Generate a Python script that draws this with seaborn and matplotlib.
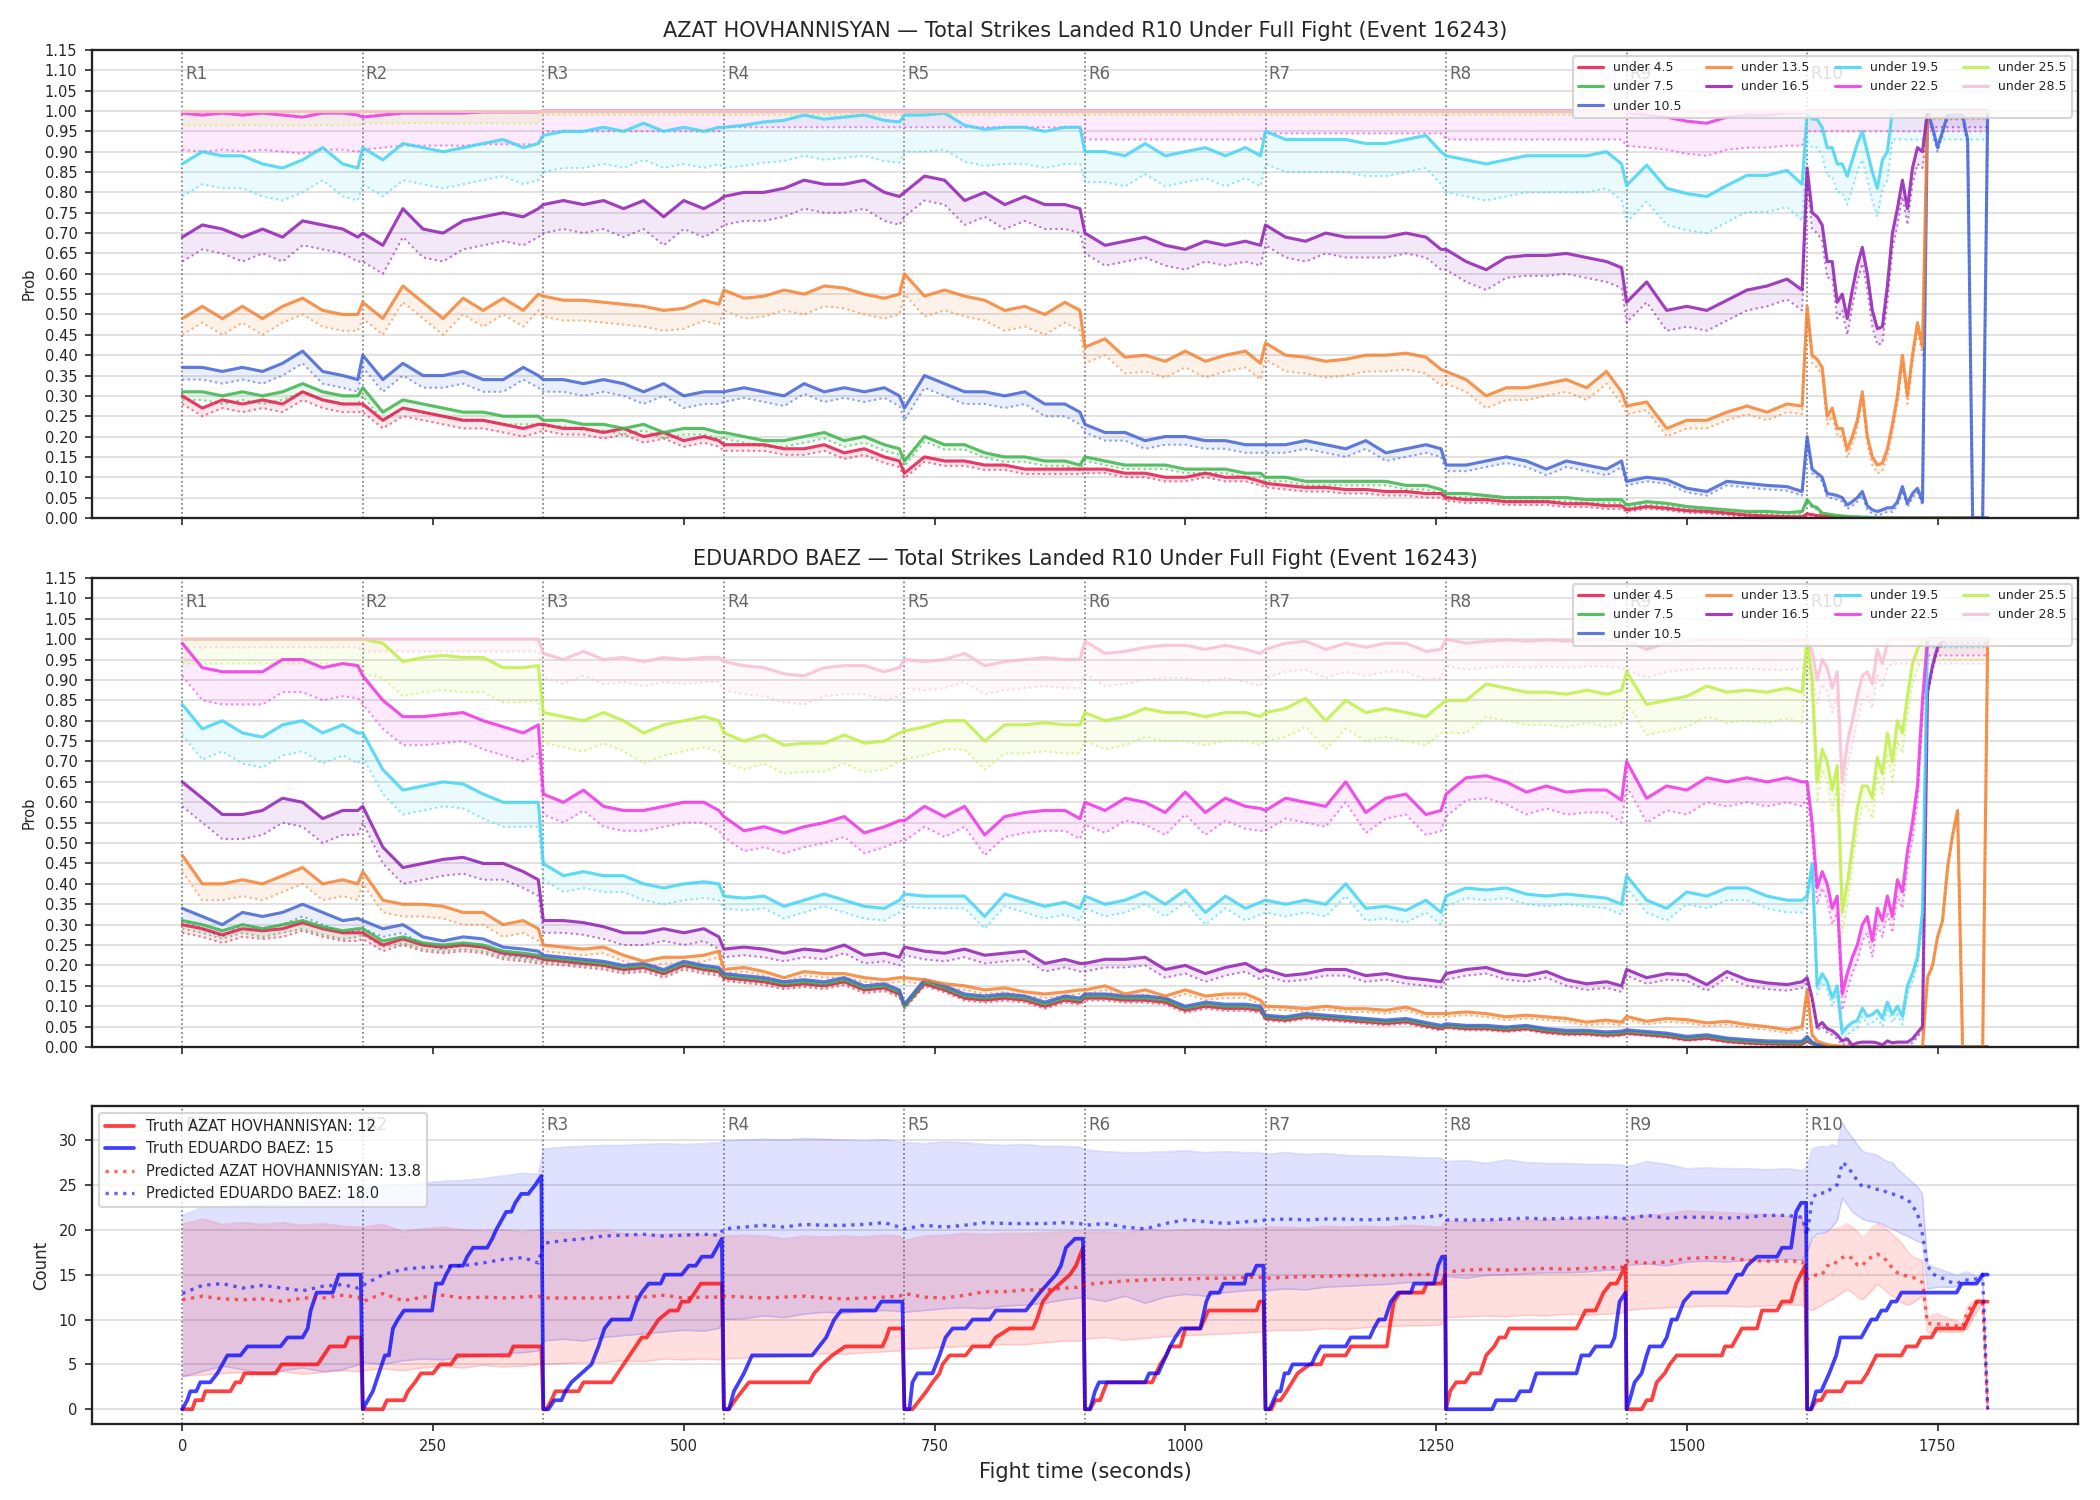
import matplotlib
matplotlib.use("Agg")
import matplotlib.pyplot as plt
from matplotlib.lines import Line2D
import numpy as np
import pandas as pd
import seaborn as sns

# ---------------- sampling grid ----------------
ROUND_OFFSETS = [0, 20, 40, 60, 80, 100, 120, 140, 160, 175]   # rounds 1-9
R10_OFFSETS = list(range(0, 185, 5))                            # round 10 (37 samples)
ROUND_STARTS = [0, 180, 360, 540, 720, 900, 1080, 1260, 1440, 1620]
T = [s + o for s in ROUND_STARTS[:9] for o in ROUND_OFFSETS] + [1620 + o for o in R10_OFFSETS]

LABELS = ["under 4.5", "under 7.5", "under 10.5", "under 13.5", "under 16.5",
          "under 19.5", "under 22.5", "under 25.5", "under 28.5"]
COLORS = ["#e6194B", "#3cb44b", "#4363d8", "#f58231", "#911eb4",
          "#42d4f4", "#f032e6", "#bfef45", "#fabed4"]

# ================= AZAT HOVHANNISYAN (top) =================
A_U45 = [[0.30, 0.27, 0.29, 0.28, 0.29, 0.28, 0.31, 0.29, 0.28, 0.28],
         [0.28, 0.24, 0.27, 0.26, 0.25, 0.24, 0.24, 0.23, 0.22, 0.23],
         [0.23, 0.22, 0.22, 0.21, 0.22, 0.20, 0.21, 0.19, 0.20, 0.19],
         [0.18, 0.18, 0.18, 0.17, 0.17, 0.18, 0.16, 0.17, 0.15, 0.14],
         [0.11, 0.15, 0.14, 0.14, 0.13, 0.13, 0.12, 0.12, 0.12, 0.12],
         [0.12, 0.12, 0.11, 0.11, 0.10, 0.10, 0.11, 0.10, 0.10, 0.09],
         [0.085, 0.08, 0.075, 0.075, 0.07, 0.07, 0.065, 0.065, 0.06, 0.06],
         [0.05, 0.045, 0.045, 0.04, 0.04, 0.04, 0.035, 0.035, 0.03, 0.03],
         [0.02, 0.028, 0.024, 0.018, 0.016, 0.012, 0.007, 0.005, 0.003, 0.003],
         [0.01, 0.008, 0.006, 0.005, 0.004, 0.003, 0.002, 0.002, 0.001] + [0.0] * 28]
A_U75 = [[0.31, 0.31, 0.30, 0.31, 0.30, 0.31, 0.33, 0.31, 0.30, 0.30],
         [0.32, 0.26, 0.29, 0.28, 0.27, 0.26, 0.26, 0.25, 0.25, 0.25],
         [0.24, 0.24, 0.23, 0.23, 0.22, 0.23, 0.21, 0.22, 0.22, 0.21],
         [0.21, 0.20, 0.19, 0.19, 0.20, 0.21, 0.19, 0.20, 0.18, 0.17],
         [0.14, 0.20, 0.18, 0.18, 0.16, 0.15, 0.15, 0.14, 0.14, 0.13],
         [0.15, 0.14, 0.13, 0.13, 0.13, 0.12, 0.12, 0.12, 0.11, 0.11],
         [0.10, 0.10, 0.09, 0.09, 0.09, 0.09, 0.09, 0.08, 0.08, 0.07],
         [0.06, 0.06, 0.055, 0.05, 0.05, 0.05, 0.05, 0.045, 0.045, 0.045],
         [0.032, 0.04, 0.036, 0.028, 0.024, 0.02, 0.016, 0.016, 0.013, 0.016],
         [0.045, 0.03, 0.025, 0.012, 0.01, 0.008, 0.006, 0.005, 0.004, 0.003, 0.003,
          0.002, 0.002, 0.001] + [0.0] * 23]
A_U105 = [[0.37, 0.37, 0.36, 0.37, 0.36, 0.38, 0.41, 0.36, 0.35, 0.34],
          [0.40, 0.34, 0.38, 0.35, 0.35, 0.36, 0.34, 0.34, 0.37, 0.35],
          [0.34, 0.34, 0.33, 0.34, 0.33, 0.31, 0.33, 0.30, 0.31, 0.31],
          [0.31, 0.32, 0.31, 0.30, 0.33, 0.31, 0.32, 0.31, 0.32, 0.30],
          [0.27, 0.35, 0.33, 0.31, 0.31, 0.30, 0.31, 0.28, 0.28, 0.26],
          [0.23, 0.21, 0.21, 0.19, 0.20, 0.20, 0.19, 0.19, 0.18, 0.18],
          [0.18, 0.18, 0.19, 0.18, 0.17, 0.19, 0.16, 0.17, 0.18, 0.17],
          [0.13, 0.13, 0.14, 0.15, 0.14, 0.12, 0.14, 0.13, 0.12, 0.14],
          [0.09, 0.10, 0.094, 0.073, 0.065, 0.09, 0.085, 0.08, 0.077, 0.065],
          [0.20, 0.12, 0.11, 0.10, 0.06, 0.058, 0.055, 0.05, 0.032, 0.04, 0.05, 0.065,
           0.03, 0.02, 0.016, 0.02, 0.025, 0.025, 0.04, 0.077, 0.036, 0.06, 0.073, 0.04,
           1.0, 0.96, 0.91, 0.95, 0.99, 0.99, 0.99, 0.99, 0.93, 0.0, 0.0, 0.0, 1.0]]
A_U135 = [[0.49, 0.52, 0.49, 0.52, 0.49, 0.52, 0.54, 0.51, 0.50, 0.50],
          [0.53, 0.49, 0.57, 0.53, 0.49, 0.54, 0.51, 0.54, 0.51, 0.55],
          [0.545, 0.535, 0.535, 0.53, 0.525, 0.52, 0.51, 0.515, 0.535, 0.525],
          [0.56, 0.54, 0.545, 0.56, 0.55, 0.57, 0.565, 0.55, 0.54, 0.55],
          [0.60, 0.545, 0.56, 0.545, 0.535, 0.51, 0.52, 0.50, 0.53, 0.51],
          [0.42, 0.44, 0.395, 0.40, 0.385, 0.41, 0.385, 0.40, 0.41, 0.38],
          [0.43, 0.40, 0.395, 0.385, 0.39, 0.40, 0.40, 0.405, 0.395, 0.365],
          [0.36, 0.34, 0.30, 0.32, 0.32, 0.33, 0.34, 0.32, 0.36, 0.31],
          [0.275, 0.285, 0.22, 0.24, 0.24, 0.26, 0.275, 0.26, 0.28, 0.275],
          [0.52, 0.40, 0.39, 0.37, 0.25, 0.27, 0.22, 0.22, 0.168, 0.20, 0.24, 0.31,
           0.20, 0.15, 0.13, 0.135, 0.17, 0.23, 0.30, 0.40, 0.30, 0.40, 0.48, 0.42] + [1.0] * 13]
A_U165 = [[0.69, 0.72, 0.71, 0.69, 0.71, 0.69, 0.73, 0.72, 0.71, 0.69],
          [0.70, 0.67, 0.76, 0.71, 0.70, 0.73, 0.74, 0.75, 0.74, 0.76],
          [0.77, 0.78, 0.77, 0.78, 0.76, 0.78, 0.74, 0.78, 0.76, 0.78],
          [0.79, 0.80, 0.80, 0.81, 0.83, 0.82, 0.82, 0.83, 0.80, 0.79],
          [0.80, 0.84, 0.83, 0.78, 0.80, 0.77, 0.79, 0.77, 0.77, 0.76],
          [0.70, 0.67, 0.68, 0.69, 0.67, 0.66, 0.68, 0.67, 0.68, 0.67],
          [0.72, 0.69, 0.68, 0.70, 0.69, 0.69, 0.69, 0.70, 0.69, 0.66],
          [0.66, 0.63, 0.61, 0.64, 0.645, 0.645, 0.65, 0.64, 0.63, 0.615],
          [0.53, 0.58, 0.51, 0.52, 0.51, 0.535, 0.56, 0.57, 0.587, 0.56],
          [0.86, 0.75, 0.74, 0.72, 0.63, 0.63, 0.53, 0.55, 0.49, 0.56, 0.62, 0.665,
           0.60, 0.51, 0.465, 0.47, 0.57, 0.70, 0.76, 0.83, 0.76, 0.86, 0.91, 0.90] + [1.0] * 13]
A_U195 = [[0.87, 0.90, 0.89, 0.89, 0.87, 0.86, 0.88, 0.91, 0.87, 0.86],
          [0.91, 0.88, 0.92, 0.91, 0.90, 0.91, 0.92, 0.93, 0.91, 0.92],
          [0.94, 0.95, 0.95, 0.96, 0.95, 0.97, 0.95, 0.96, 0.95, 0.96],
          [0.96, 0.965, 0.973, 0.977, 0.99, 0.98, 0.985, 0.99, 0.977, 0.973],
          [0.99, 0.99, 0.995, 0.965, 0.955, 0.96, 0.96, 0.95, 0.96, 0.96],
          [0.90, 0.90, 0.89, 0.92, 0.89, 0.90, 0.91, 0.89, 0.91, 0.89],
          [0.95, 0.93, 0.93, 0.93, 0.93, 0.92, 0.92, 0.93, 0.94, 0.90],
          [0.89, 0.88, 0.87, 0.88, 0.89, 0.89, 0.89, 0.89, 0.90, 0.87],
          [0.817, 0.867, 0.81, 0.797, 0.79, 0.817, 0.842, 0.842, 0.854, 0.82],
          [0.995, 0.98, 0.98, 0.96, 0.91, 0.91, 0.87, 0.87, 0.84, 0.88, 0.92, 0.95,
           0.90, 0.85, 0.81, 0.88, 0.90] + [1.0] * 20]
A_U225 = [[0.995, 0.99, 0.995, 0.99, 0.995, 0.99, 0.985, 0.995, 0.995, 0.99],
          [0.985, 0.99, 0.995, 0.995, 0.995, 0.995, 0.998, 0.998, 0.998, 0.998],
          [1.0] * 10, [1.0] * 10, [1.0] * 10, [1.0] * 10, [1.0] * 10, [1.0] * 10,
          [0.995, 0.99, 0.985, 0.975, 0.97, 0.985, 0.99, 0.99, 0.995, 0.995],
          [1.0] * 37]
A_U255 = [[1.0] * 10] * 9 + [[1.0] * 37]
A_U285 = [[1.0] * 10] * 9 + [[1.0] * 37]
A_SERIES = [A_U45, A_U75, A_U105, A_U135, A_U165, A_U195, A_U225, A_U255, A_U285]

# gap between solid line and dotted lower line, per round
A_GAPS = [[0.02, 0.02, 0.015, 0.015, 0.012, 0.01, 0.01, 0.008, 0.005, 0.003],
          [0.02, 0.02, 0.015, 0.015, 0.012, 0.01, 0.01, 0.008, 0.006, 0.005],
          [0.03, 0.03, 0.03, 0.025, 0.03, 0.02, 0.02, 0.015, 0.01, 0.01],
          [0.04, 0.04, 0.05, 0.05, 0.05, 0.04, 0.04, 0.03, 0.02, 0.02],
          [0.06, 0.07, 0.07, 0.07, 0.06, 0.05, 0.05, 0.05, 0.05, 0.04],
          [0.08, 0.09, 0.09, 0.10, 0.09, 0.075, 0.08, 0.09, 0.09, 0.07],
          [0.09, 0.08, 0.05, 0.04, 0.04, 0.07, 0.055, 0.07, 0.08, 0.05],
          [0.035, 0.03, 0.01, 0.01, 0.01, 0.01, 0.01, 0.01, 0.015, 0.01],
          [0.005, 0.005, 0.005, 0.005, 0.005, 0.005, 0.005, 0.005, 0.005, 0.005]]

# ================= EDUARDO BAEZ (middle) =================
B_U45 = [[0.30, 0.29, 0.275, 0.29, 0.285, 0.29, 0.305, 0.29, 0.28, 0.28],
         [0.28, 0.25, 0.265, 0.25, 0.245, 0.25, 0.245, 0.23, 0.225, 0.22],
         [0.215, 0.21, 0.205, 0.20, 0.19, 0.195, 0.18, 0.20, 0.19, 0.185],
         [0.17, 0.165, 0.16, 0.15, 0.155, 0.15, 0.16, 0.14, 0.145, 0.13],
         [0.10, 0.155, 0.14, 0.12, 0.115, 0.12, 0.115, 0.10, 0.115, 0.11],
         [0.12, 0.12, 0.115, 0.115, 0.11, 0.09, 0.10, 0.095, 0.095, 0.09],
         [0.07, 0.066, 0.074, 0.07, 0.066, 0.062, 0.058, 0.062, 0.052, 0.045],
         [0.05, 0.045, 0.045, 0.041, 0.045, 0.037, 0.033, 0.033, 0.029, 0.031],
         [0.034, 0.03, 0.026, 0.018, 0.022, 0.014, 0.01, 0.008, 0.007, 0.007],
         [0.015, 0.008, 0.004, 0.002] + [0.0] * 33]
B_U75 = [[0.31, 0.30, 0.285, 0.30, 0.29, 0.30, 0.31, 0.295, 0.285, 0.29],
         [0.29, 0.26, 0.27, 0.255, 0.25, 0.255, 0.25, 0.235, 0.23, 0.225],
         [0.22, 0.215, 0.21, 0.205, 0.195, 0.20, 0.185, 0.205, 0.195, 0.19],
         [0.175, 0.17, 0.165, 0.155, 0.16, 0.155, 0.165, 0.145, 0.15, 0.135],
         [0.10, 0.16, 0.145, 0.125, 0.12, 0.125, 0.12, 0.105, 0.12, 0.115],
         [0.125, 0.125, 0.12, 0.12, 0.115, 0.095, 0.105, 0.10, 0.10, 0.095],
         [0.074, 0.07, 0.078, 0.074, 0.07, 0.066, 0.062, 0.066, 0.056, 0.049],
         [0.053, 0.049, 0.049, 0.045, 0.049, 0.041, 0.037, 0.037, 0.033, 0.035],
         [0.038, 0.034, 0.03, 0.022, 0.026, 0.018, 0.014, 0.011, 0.01, 0.01],
         [0.02, 0.01, 0.005, 0.003, 0.001] + [0.0] * 32]
B_U105 = [[0.34, 0.32, 0.30, 0.33, 0.32, 0.33, 0.35, 0.33, 0.31, 0.315],
          [0.31, 0.29, 0.30, 0.27, 0.26, 0.27, 0.265, 0.245, 0.24, 0.235],
          [0.225, 0.22, 0.215, 0.21, 0.20, 0.205, 0.19, 0.21, 0.20, 0.195],
          [0.18, 0.175, 0.17, 0.16, 0.165, 0.16, 0.17, 0.15, 0.155, 0.14],
          [0.105, 0.165, 0.15, 0.13, 0.125, 0.13, 0.125, 0.11, 0.125, 0.12],
          [0.13, 0.13, 0.125, 0.125, 0.12, 0.10, 0.11, 0.105, 0.105, 0.10],
          [0.078, 0.074, 0.082, 0.078, 0.074, 0.07, 0.066, 0.07, 0.06, 0.053],
          [0.057, 0.053, 0.053, 0.049, 0.053, 0.045, 0.041, 0.041, 0.037, 0.039],
          [0.042, 0.038, 0.034, 0.026, 0.03, 0.022, 0.018, 0.015, 0.014, 0.014],
          [0.026, 0.012, 0.006, 0.004, 0.002] + [0.0] * 32]
B_U135 = [[0.47, 0.40, 0.40, 0.41, 0.40, 0.42, 0.44, 0.40, 0.41, 0.40],
          [0.43, 0.36, 0.35, 0.35, 0.345, 0.33, 0.33, 0.30, 0.31, 0.29],
          [0.25, 0.245, 0.24, 0.245, 0.225, 0.21, 0.22, 0.22, 0.225, 0.235],
          [0.19, 0.195, 0.185, 0.17, 0.185, 0.18, 0.18, 0.17, 0.165, 0.17],
          [0.17, 0.165, 0.155, 0.15, 0.14, 0.145, 0.135, 0.13, 0.135, 0.14],
          [0.14, 0.15, 0.13, 0.14, 0.125, 0.14, 0.125, 0.13, 0.13, 0.115],
          [0.10, 0.098, 0.094, 0.10, 0.094, 0.094, 0.09, 0.098, 0.082, 0.082],
          [0.082, 0.086, 0.082, 0.074, 0.078, 0.074, 0.07, 0.061, 0.066, 0.061],
          [0.075, 0.063, 0.07, 0.067, 0.059, 0.063, 0.055, 0.05, 0.042, 0.05],
          [0.14, 0.03, 0.015, 0.01, 0.006, 0.004, 0.003, 0.002, 0.001] + [0.0] * 15 +
          [0.17, 0.20, 0.27, 0.31, 0.44, 0.52, 0.58, 0.0, 0.0, 0.0, 0.0, 0.0, 1.0]]
B_U165 = [[0.65, 0.61, 0.57, 0.57, 0.58, 0.61, 0.60, 0.56, 0.58, 0.58],
          [0.59, 0.49, 0.44, 0.45, 0.46, 0.465, 0.45, 0.45, 0.43, 0.41],
          [0.31, 0.31, 0.305, 0.295, 0.28, 0.28, 0.29, 0.28, 0.29, 0.27],
          [0.24, 0.245, 0.24, 0.23, 0.24, 0.235, 0.25, 0.225, 0.23, 0.22],
          [0.245, 0.235, 0.23, 0.24, 0.225, 0.23, 0.235, 0.205, 0.215, 0.205],
          [0.205, 0.215, 0.215, 0.22, 0.19, 0.20, 0.18, 0.195, 0.205, 0.185],
          [0.19, 0.175, 0.18, 0.19, 0.19, 0.175, 0.18, 0.17, 0.165, 0.16],
          [0.18, 0.19, 0.195, 0.18, 0.175, 0.185, 0.165, 0.155, 0.16, 0.15],
          [0.19, 0.17, 0.18, 0.177, 0.153, 0.185, 0.165, 0.157, 0.153, 0.16],
          [0.17, 0.12, 0.05, 0.06, 0.045, 0.04, 0.03, 0.015, 0.02, 0.005, 0.01, 0.012,
           0.012, 0.012, 0.01, 0.005, 0.015, 0.01, 0.012, 0.012, 0.012, 0.02, 0.035, 0.05,
           0.87, 0.935, 0.98, 0.995] + [1.0] * 9]
B_U195 = [[0.84, 0.78, 0.80, 0.77, 0.76, 0.79, 0.80, 0.77, 0.79, 0.77],
          [0.77, 0.68, 0.63, 0.64, 0.65, 0.645, 0.62, 0.60, 0.60, 0.60],
          [0.45, 0.42, 0.43, 0.42, 0.42, 0.40, 0.39, 0.40, 0.405, 0.40],
          [0.37, 0.365, 0.37, 0.345, 0.36, 0.375, 0.36, 0.345, 0.34, 0.36],
          [0.375, 0.37, 0.37, 0.37, 0.32, 0.375, 0.36, 0.345, 0.355, 0.34],
          [0.37, 0.35, 0.36, 0.38, 0.35, 0.385, 0.33, 0.37, 0.34, 0.355],
          [0.36, 0.35, 0.36, 0.35, 0.40, 0.34, 0.345, 0.335, 0.36, 0.33],
          [0.37, 0.39, 0.385, 0.39, 0.375, 0.37, 0.375, 0.37, 0.365, 0.35],
          [0.42, 0.36, 0.34, 0.38, 0.37, 0.39, 0.39, 0.37, 0.36, 0.36],
          [0.37, 0.45, 0.15, 0.18, 0.16, 0.12, 0.15, 0.035, 0.05, 0.06, 0.065, 0.095,
           0.075, 0.08, 0.09, 0.07, 0.11, 0.08, 0.10, 0.075, 0.15, 0.18, 0.22, 0.33] + [1.0] * 13]
B_U225 = [[0.99, 0.93, 0.92, 0.92, 0.92, 0.95, 0.95, 0.93, 0.94, 0.935],
          [0.91, 0.85, 0.81, 0.81, 0.815, 0.82, 0.80, 0.785, 0.77, 0.79],
          [0.62, 0.60, 0.63, 0.59, 0.58, 0.58, 0.59, 0.60, 0.60, 0.58],
          [0.565, 0.53, 0.54, 0.525, 0.54, 0.55, 0.565, 0.525, 0.54, 0.555],
          [0.555, 0.59, 0.565, 0.59, 0.52, 0.565, 0.575, 0.58, 0.58, 0.56],
          [0.60, 0.58, 0.61, 0.60, 0.575, 0.625, 0.575, 0.61, 0.59, 0.585],
          [0.58, 0.61, 0.60, 0.59, 0.65, 0.575, 0.61, 0.62, 0.57, 0.58],
          [0.62, 0.66, 0.665, 0.65, 0.625, 0.64, 0.625, 0.63, 0.63, 0.605],
          [0.70, 0.61, 0.64, 0.63, 0.66, 0.65, 0.66, 0.65, 0.66, 0.65],
          [0.65, 0.55, 0.39, 0.43, 0.40, 0.34, 0.37, 0.13, 0.18, 0.22, 0.25, 0.30,
           0.32, 0.26, 0.34, 0.31, 0.37, 0.32, 0.41, 0.38, 0.48, 0.55, 0.64, 0.85] + [1.0] * 13]
B_U255 = [[1.0] * 10,
          [1.0, 0.99, 0.945, 0.955, 0.96, 0.955, 0.955, 0.93, 0.93, 0.935],
          [0.82, 0.81, 0.80, 0.82, 0.80, 0.77, 0.79, 0.80, 0.81, 0.80],
          [0.77, 0.75, 0.765, 0.74, 0.745, 0.745, 0.765, 0.745, 0.75, 0.77],
          [0.775, 0.785, 0.80, 0.80, 0.75, 0.79, 0.79, 0.795, 0.79, 0.79],
          [0.82, 0.80, 0.81, 0.83, 0.82, 0.82, 0.81, 0.82, 0.82, 0.81],
          [0.82, 0.83, 0.855, 0.80, 0.85, 0.82, 0.83, 0.82, 0.81, 0.84],
          [0.85, 0.85, 0.89, 0.88, 0.87, 0.87, 0.865, 0.875, 0.865, 0.875],
          [0.92, 0.84, 0.85, 0.86, 0.885, 0.87, 0.875, 0.87, 0.88, 0.87],
          [1.0, 0.90, 0.65, 0.73, 0.70, 0.63, 0.69, 0.33, 0.40, 0.49, 0.585, 0.64, 0.64,
           0.61, 0.71, 0.67, 0.77, 0.70, 0.80, 0.77, 0.86, 0.94, 0.975] + [1.0] * 14]
B_U285 = [[1.0] * 10, [1.0] * 10,
          [0.965, 0.95, 0.97, 0.95, 0.955, 0.945, 0.955, 0.95, 0.955, 0.955],
          [0.945, 0.935, 0.93, 0.915, 0.91, 0.93, 0.935, 0.935, 0.92, 0.93],
          [0.95, 0.945, 0.95, 0.965, 0.935, 0.945, 0.95, 0.955, 0.95, 0.95],
          [0.995, 0.965, 0.97, 0.98, 0.985, 0.985, 0.975, 0.985, 0.975, 0.965],
          [0.975, 0.99, 0.995, 0.975, 0.99, 0.98, 0.99, 0.99, 0.97, 0.975],
          [1.0, 0.99, 0.995, 0.998, 0.995, 0.998, 0.995, 0.998, 0.998, 0.995],
          [0.995, 0.975, 0.99, 0.995, 0.998, 0.998, 0.998, 0.995, 0.995, 0.998],
          [1.0, 0.97, 0.90, 0.95, 0.93, 0.88, 0.92, 0.65, 0.745, 0.80, 0.86, 0.91, 0.92,
           0.89, 0.975, 0.94, 0.99] + [1.0] * 20]
B_SERIES = [B_U45, B_U75, B_U105, B_U135, B_U165, B_U195, B_U225, B_U255, B_U285]

B_GAPS = [[0.02, 0.015, 0.01, 0.008, 0.006, 0.006, 0.005, 0.004, 0.003, 0.002],
          [0.02, 0.015, 0.01, 0.008, 0.006, 0.006, 0.005, 0.004, 0.003, 0.002],
          [0.03, 0.02, 0.01, 0.008, 0.006, 0.006, 0.005, 0.004, 0.003, 0.002],
          [0.04, 0.03, 0.015, 0.01, 0.01, 0.01, 0.008, 0.008, 0.008, 0.005],
          [0.06, 0.04, 0.03, 0.02, 0.02, 0.02, 0.015, 0.015, 0.015, 0.01],
          [0.075, 0.06, 0.04, 0.03, 0.03, 0.03, 0.03, 0.025, 0.03, 0.02],
          [0.08, 0.07, 0.05, 0.05, 0.05, 0.055, 0.05, 0.055, 0.06, 0.04],
          [0.06, 0.085, 0.075, 0.07, 0.07, 0.07, 0.07, 0.08, 0.075, 0.05],
          [0.02, 0.03, 0.06, 0.07, 0.07, 0.08, 0.07, 0.065, 0.07, 0.06]]

# ================= counts (bottom) =================
PRED_A = [[12.2, 12.6, 12.3, 12.2, 12.3, 12.0, 12.4, 12.4, 12.7, 12.5],
          [12.0, 12.9, 12.1, 12.5, 12.7, 12.4, 12.5, 12.4, 12.5, 12.6],
          [12.4, 12.4, 12.4, 12.4, 12.5, 12.5, 12.7, 12.4, 12.5, 12.5],
          [12.6, 12.5, 12.4, 12.5, 12.6, 12.4, 12.3, 12.4, 12.5, 12.6],
          [12.9, 12.5, 12.4, 12.7, 13.1, 13.1, 13.3, 13.3, 13.5, 13.6],
          [13.9, 14.1, 14.3, 14.4, 14.5, 14.5, 14.6, 14.6, 14.7, 14.7],
          [14.6, 14.7, 14.8, 14.8, 14.9, 14.9, 14.9, 15.0, 15.0, 15.1],
          [15.3, 15.5, 15.6, 15.5, 15.6, 15.7, 15.6, 15.7, 15.8, 15.8],
          [16.5, 16.3, 16.4, 16.8, 16.9, 16.9, 16.6, 16.5, 16.5, 16.5],
          [14.5, 14.8, 15.0, 15.0, 16.0, 16.0, 16.5, 16.9, 17.1, 16.8, 16.1, 16.0, 16.7,
           17.0, 17.3, 17.0, 16.5, 15.7, 15.2, 15.0, 14.8, 14.7, 14.5, 14.1, 9.6, 9.5,
           9.5, 9.5, 9.4, 9.4, 9.3, 9.2, 11.0, 11.5, 12.0, 12.0, 0.0]]
PRED_B = [[12.9, 13.8, 14.0, 13.5, 13.8, 13.5, 13.2, 13.7, 13.9, 13.5],
          [13.8, 15.0, 15.6, 15.8, 15.9, 16.0, 16.3, 16.7, 16.9, 16.3],
          [18.5, 18.8, 19.0, 19.3, 19.4, 19.5, 19.3, 19.4, 19.5, 19.4],
          [20.1, 20.3, 20.5, 20.3, 20.6, 20.5, 20.5, 20.6, 20.8, 20.3],
          [20.1, 20.5, 20.3, 20.5, 20.8, 20.7, 20.7, 20.7, 20.8, 20.7],
          [20.5, 20.7, 20.3, 20.1, 20.7, 21.1, 20.9, 20.7, 20.9, 21.0],
          [21.1, 21.2, 21.1, 21.2, 21.2, 21.1, 21.2, 21.3, 21.4, 21.6],
          [21.1, 21.1, 21.1, 21.2, 21.3, 21.2, 21.3, 21.3, 21.4, 21.3],
          [21.2, 21.6, 21.3, 21.4, 21.4, 21.3, 21.4, 21.6, 21.6, 21.4],
          [19.4, 23.5, 24.1, 24.1, 24.1, 24.8, 25.0, 27.5, 27.1, 26.3, 25.5, 24.8, 24.9,
           24.6, 24.5, 24.5, 24.1, 24.0, 23.8, 23.6, 23.4, 22.7, 21.8, 19.5, 16.0, 15.1,
           14.8, 14.6, 14.3, 14.1, 14.0, 14.4, 14.4, 14.4, 14.6, 15.0, 0.0]]
BAND_A_HI = [[20.6, 21.2, 20.6, 20.8, 20.6, 20.8, 20.5, 20.7, 20.4, 20.3],
             [20.3, 20.6, 19.8, 20.1, 20.3, 20.0, 19.9, 20.0, 19.8, 20.0],
             [19.8, 19.7, 19.8, 19.9, 19.6, 19.4, 19.5, 19.6, 19.4, 19.5],
             [19.3, 19.4, 19.3, 19.0, 19.3, 19.2, 19.3, 19.2, 19.4, 19.3],
             [18.8, 19.3, 19.4, 19.6, 19.5, 19.6, 19.6, 19.7, 19.8, 19.8],
             [19.8, 19.8, 19.7, 20.1, 19.9, 20.0, 20.1, 20.0, 20.2, 20.2],
             [20.3, 20.3, 20.2, 20.4, 20.3, 20.4, 20.3, 20.5, 20.4, 20.3],
             [21.0, 20.9, 21.0, 21.1, 21.0, 21.1, 21.2, 21.3, 21.4, 21.3],
             [21.5, 21.6, 21.8, 22.1, 22.0, 21.9, 21.8, 21.7, 21.5, 21.4],
             [17.5, 18.7, 19.2, 19.4, 19.7, 20.0, 20.2, 20.4, 20.7, 20.3, 19.8, 19.1, 19.6,
              20.3, 20.7, 20.4, 20.0, 19.5, 19.0, 18.4, 17.6, 17.0, 16.8, 16.6, 10.0, 10.6,
              10.7, 10.4, 10.2, 10.0, 9.8, 9.5, 11.5, 12.0, 12.3, 12.3, 0.0]]
BAND_A_LO = [[3.7, 3.8, 4.0, 4.1, 3.9, 4.2, 3.9, 4.1, 4.3, 4.2],
             [4.3, 4.5, 4.3, 4.6, 4.8, 4.6, 4.9, 4.7, 4.8, 5.0],
             [5.0, 5.1, 5.2, 5.2, 5.4, 5.3, 5.6, 5.5, 5.6, 5.5],
             [5.6, 5.7, 5.8, 5.9, 6.0, 6.2, 6.1, 6.3, 6.4, 6.5],
             [6.7, 6.8, 6.9, 7.0, 7.1, 7.2, 7.2, 7.4, 7.6, 7.6],
             [7.8, 8.0, 7.7, 7.9, 8.1, 8.2, 8.3, 8.4, 8.5, 8.6],
             [8.7, 8.8, 8.8, 9.0, 8.9, 9.1, 9.2, 9.3, 9.3, 9.4],
             [10.2, 10.3, 10.4, 10.3, 10.5, 10.4, 10.6, 10.5, 10.6, 10.7],
             [11.0, 11.2, 11.3, 11.4, 11.5, 11.5, 11.4, 11.5, 11.6, 11.6],
             [11.2, 11.0, 11.3, 11.6, 12.0, 12.2, 12.6, 13.0, 13.3, 13.0, 12.5, 12.2, 12.7,
              13.3, 13.9, 13.5, 13.0, 12.6, 12.2, 11.8, 11.6, 11.8, 12.2, 12.6, 8.5, 8.5,
              8.6, 8.6, 8.6, 8.6, 8.6, 8.6, 9.0, 10.0, 11.0, 11.8, 0.0]]
BAND_B_HI = [[21.6, 22.5, 22.6, 22.7, 22.8, 22.9, 23.2, 23.5, 23.9, 24.2],
             [24.5, 24.9, 25.0, 25.2, 25.4, 25.5, 25.7, 26.0, 26.3, 26.2],
             [29.0, 29.2, 29.3, 29.4, 29.4, 29.5, 29.6, 29.5, 29.6, 29.7],
             [29.9, 30.0, 30.1, 30.0, 30.2, 30.1, 30.0, 29.9, 30.0, 29.8],
             [29.7, 29.6, 29.8, 29.7, 29.5, 29.4, 29.5, 29.3, 29.3, 29.2],
             [28.9, 28.7, 28.6, 28.6, 28.7, 28.8, 28.6, 28.7, 28.6, 28.6],
             [28.4, 28.6, 28.4, 28.5, 28.3, 28.2, 28.2, 28.1, 28.0, 28.0],
             [27.6, 27.7, 27.4, 27.8, 27.5, 27.4, 27.4, 27.3, 27.3, 27.2],
             [27.0, 27.6, 27.3, 26.8, 26.9, 26.8, 26.8, 26.7, 26.8, 26.6],
             [27.0, 29.0, 29.2, 29.3, 29.2, 29.5, 29.2, 32.0, 31.0, 30.3, 29.5, 28.8, 28.5,
              28.5, 28.3, 27.9, 27.6, 27.5, 26.8, 26.3, 25.8, 25.3, 24.8, 24.0, 16.2, 15.9,
              15.7, 15.5, 15.3, 15.1, 14.9, 15.2, 15.3, 15.0, 14.8, 15.3, 0.0]]
BAND_B_LO = [[3.6, 4.2, 4.8, 4.4, 4.0, 4.3, 4.6, 4.2, 4.4, 4.9],
             [5.2, 5.0, 5.4, 5.6, 5.5, 5.8, 6.0, 6.2, 6.3, 6.5],
             [7.6, 7.8, 7.6, 8.0, 8.2, 8.4, 8.6, 8.8, 8.7, 9.0],
             [10.0, 10.1, 10.4, 10.2, 10.6, 10.8, 10.7, 10.9, 11.0, 10.9],
             [10.8, 11.0, 11.2, 11.3, 11.2, 11.5, 11.6, 11.8, 12.2, 12.4],
             [12.4, 12.0, 12.6, 11.8, 12.5, 12.8, 12.6, 13.0, 13.2, 13.3],
             [13.2, 13.4, 13.3, 13.6, 13.7, 13.8, 13.9, 14.1, 14.2, 14.2],
             [14.8, 14.6, 14.9, 15.0, 15.1, 15.2, 15.2, 15.3, 15.5, 15.5],
             [16.0, 16.2, 16.0, 16.4, 16.5, 16.4, 16.6, 16.5, 16.7, 16.6],
             [17.5, 19.0, 19.5, 19.6, 19.8, 20.3, 21.0, 23.5, 22.8, 22.0, 21.6, 21.2, 21.0,
              20.9, 20.8, 20.6, 20.3, 20.1, 19.8, 19.5, 19.3, 19.0, 18.7, 18.5, 13.4, 13.5,
              13.6, 13.6, 13.6, 13.6, 13.7, 13.9, 14.0, 14.0, 14.2, 14.4, 0.0]]

# truth: cumulative strikes within each round (breakpoints)
TRUTH_A_T = [0, 10, 13, 20, 23, 48, 53, 58, 62, 93, 99, 135, 141, 147, 162, 166, 178,
             180, 200, 204, 221, 225, 232, 238, 250, 257, 268, 274, 326, 330, 358,
             360, 363, 368, 372, 395, 400, 428, 434, 440, 446, 452, 458, 463, 469, 475, 486, 494, 498, 505, 511, 517, 538,
             540, 545, 551, 558, 565, 625, 630, 638, 648, 661, 698, 702, 705, 718,
             720, 728, 735, 742, 748, 755, 758, 765, 781, 788, 805, 811, 825, 848, 852, 855, 858, 865, 875, 885, 891, 898,
             900, 905, 910, 915, 922, 967, 971, 975, 981, 985, 995, 1000, 1015, 1019, 1023, 1071, 1074, 1078,
             1080, 1086, 1090, 1095, 1101, 1112, 1124, 1135, 1139, 1160, 1165, 1201, 1205, 1208, 1214, 1237, 1241, 1256, 1259,
             1260, 1264, 1270, 1279, 1285, 1294, 1300, 1308, 1313, 1319, 1323, 1390, 1399, 1409, 1417, 1424, 1430, 1439,
             1440, 1455, 1460, 1465, 1470, 1478, 1483, 1490, 1535, 1538, 1545, 1555, 1570, 1575, 1590, 1595, 1604, 1609, 1618,
             1620, 1624, 1629, 1634, 1639, 1654, 1659, 1674, 1680, 1689, 1714, 1719, 1729, 1734, 1744, 1749, 1776, 1789, 1800]
TRUTH_A_N = [0, 0, 1, 1, 2, 2, 3, 3, 4, 4, 5, 5, 6, 7, 7, 8, 8,
             0, 0, 1, 1, 2, 3, 4, 4, 5, 5, 6, 6, 7, 7,
             0, 0, 1, 2, 2, 3, 3, 4, 5, 6, 7, 8, 8, 9, 10, 11, 11, 12, 12, 13, 14, 14,
             0, 0, 1, 2, 3, 3, 4, 5, 6, 7, 7, 8, 9, 9,
             0, 0, 1, 2, 3, 4, 5, 6, 6, 7, 7, 8, 9, 9, 10, 11, 12, 13, 14, 15, 16, 18,
             0, 0, 1, 1, 3, 3, 4, 5, 6, 7, 7, 9, 9, 10, 11, 11, 12, 12,
             0, 0, 1, 1, 2, 4, 5, 5, 6, 6, 7, 7, 10, 12, 13, 13, 14, 14, 15,
             0, 2, 3, 3, 4, 4, 6, 7, 8, 8, 9, 9, 11, 11, 13, 14, 14, 16,
             0, 0, 1, 1, 3, 4, 5, 6, 6, 7, 7, 9, 9, 11, 11, 12, 12, 14, 16,
             0, 0, 1, 1, 2, 2, 3, 3, 4, 6, 6, 7, 7, 8, 8, 9, 9, 12, 12]
TRUTH_B_T = [0, 5, 8, 14, 18, 28, 35, 40, 45, 58, 65, 98, 105, 120, 125, 128, 131, 134, 150, 156, 178,
             180, 185, 190, 196, 202, 206, 210, 215, 221, 249, 253, 259, 263, 268, 280, 284, 290, 304, 309, 313, 318, 323, 328, 332, 338, 345, 352, 358,
             360, 365, 371, 378, 382, 388, 398, 408, 415, 421, 428, 447, 453, 458, 465, 477, 481, 498, 505, 512, 518, 528, 533, 538,
             540, 545, 550, 555, 560, 564, 568, 628, 635, 642, 650, 657, 691, 697, 718,
             720, 725, 728, 733, 748, 755, 761, 768, 781, 788, 805, 811, 841, 848, 855, 863, 871, 876, 881, 890, 898,
             900, 905, 910, 914, 960, 964, 973, 977, 985, 990, 996, 1015, 1021, 1025, 1034, 1038, 1059, 1061, 1067, 1071, 1078,
             1080, 1084, 1088, 1092, 1095, 1099, 1103, 1107, 1126, 1130, 1135, 1160, 1165, 1184, 1188, 1193, 1199, 1205, 1212, 1225, 1228, 1248, 1252, 1256, 1259,
             1260, 1306, 1310, 1329, 1334, 1344, 1350, 1390, 1395, 1403, 1409, 1424, 1428, 1433, 1439,
             1440, 1443, 1448, 1455, 1460, 1463, 1475, 1480, 1485, 1490, 1497, 1505, 1540, 1545, 1550, 1555, 1560, 1570, 1590, 1595, 1604, 1609, 1614, 1619,
             1620, 1624, 1629, 1634, 1642, 1649, 1653, 1674, 1679, 1684, 1689, 1694, 1699, 1704, 1709, 1714, 1769, 1774, 1789, 1795, 1800]
TRUTH_B_N = [0, 1, 2, 2, 3, 3, 4, 5, 6, 6, 7, 7, 8, 8, 9, 11, 12, 13, 13, 15, 15,
             0, 1, 2, 4, 6, 6, 9, 10, 11, 11, 14, 14, 15, 16, 16, 17, 18, 18, 19, 20, 21, 22, 22, 23, 24, 24, 25, 26,
             0, 0, 1, 1, 2, 3, 4, 5, 7, 9, 10, 10, 12, 13, 14, 14, 15, 15, 16, 16, 17, 17, 18, 19,
             0, 0, 2, 3, 4, 5, 6, 6, 7, 8, 10, 11, 11, 12, 12,
             0, 0, 3, 4, 4, 6, 8, 9, 9, 10, 10, 11, 11, 12, 13, 14, 15, 16, 18, 19, 19,
             0, 0, 2, 3, 3, 4, 4, 5, 7, 8, 9, 9, 12, 13, 13, 14, 14, 15, 15, 16, 16,
             0, 0, 1, 2, 2, 4, 4, 5, 5, 6, 7, 7, 8, 8, 9, 10, 10, 12, 13, 13, 14, 14, 16, 17, 17,
             0, 0, 1, 1, 2, 2, 4, 4, 6, 6, 7, 7, 8, 12, 13,
             0, 1, 3, 4, 6, 7, 7, 8, 10, 10, 12, 13, 13, 14, 15, 15, 16, 17, 17, 18, 18, 22, 23, 23,
             0, 0, 2, 2, 4, 6, 8, 8, 9, 10, 10, 11, 11, 12, 12, 13, 13, 14, 14, 15, 15]

NAME_A = "AZAT HOVHANNISYAN"
NAME_B = "EDUARDO BAEZ"
TITLE_SUFFIX = " \u2014 Total Strikes Landed R10 Under Full Fight (Event 16243)"


def flat(rounds):
    return [v for rnd in rounds for v in rnd]


def lower(rounds, gaps):
    return [max(0.0, v - g) for rnd, g in zip(rounds, gaps) for v in rnd]


def long_frame(series_list, gaps_list=None):
    rows = []
    for lab, ser, gaps in zip(LABELS, series_list, gaps_list or [None] * len(LABELS)):
        vals = flat(ser) if gaps is None else lower(ser, gaps)
        assert len(vals) == len(T), (lab, len(vals))
        rows.append(pd.DataFrame({"t": T, "p": vals, "series": lab}))
    return pd.concat(rows, ignore_index=True)


# ---------------- style ----------------
sns.set_style("ticks")
plt.rcParams["font.family"] = ["DejaVu Sans"]
plt.rcParams["axes.edgecolor"] = "#222222"
plt.rcParams["axes.linewidth"] = 1.1

fig = plt.figure(figsize=(14, 10), dpi=150)
L, W = 0.0438, 0.9457
ax1 = fig.add_axes([L, 0.6547, W, 0.3120])
ax2 = fig.add_axes([L, 0.3020, W, 0.3127], sharex=ax1)
ax3 = fig.add_axes([L, 0.0507, W, 0.2120], sharex=ax1)


def round_marks(ax):
    for i, s in enumerate(ROUND_STARTS):
        ax.axvline(s, color="#555555", ls=":", lw=0.8, alpha=0.8, zorder=1)
        ax.text(s + 3, 0.968, f"R{i+1}", transform=ax.get_xaxis_transform(),
                ha="left", va="top", fontsize=8, color="#666666", zorder=1)


def prob_panel(ax, series_list, gaps_list, name):
    df = long_frame(series_list)
    dfl = long_frame(series_list, gaps_list)
    ax.grid(axis="y", color="#dddddd", lw=0.8, zorder=0)
    round_marks(ax)
    for lab, col in zip(LABELS, COLORS):
        hi = df[df.series == lab]
        lo = dfl[dfl.series == lab]
        ax.fill_between(hi.t.values, lo.p.values, hi.p.values, color=col, alpha=0.10, lw=0)
    sns.lineplot(data=dfl, x="t", y="p", hue="series", hue_order=LABELS, palette=COLORS,
                 estimator=None, errorbar=None, linestyle=":", lw=1.0, alpha=0.6,
                 legend=False, ax=ax)
    sns.lineplot(data=df, x="t", y="p", hue="series", hue_order=LABELS, palette=COLORS,
                 estimator=None, errorbar=None, lw=1.5, alpha=0.85, legend=False, ax=ax)
    handles = [Line2D([0], [0], color=c, lw=1.5, alpha=0.85) for c in COLORS]
    ax.legend(handles, LABELS, loc="upper right", ncol=4, fontsize=6, framealpha=0.8)
    ax.set_ylim(0, 1.15)
    ax.set_yticks(np.round(np.arange(0, 1.1501, 0.05), 2))
    ax.set_yticklabels([f"{v:.2f}" for v in np.arange(0, 1.1501, 0.05)])
    ax.set_ylabel("Prob", fontsize=7)
    ax.set_xlabel("")
    ax.set_title(name + TITLE_SUFFIX, fontsize=10)
    ax.tick_params(axis="both", labelsize=7, length=3.5, width=0.8)
    ax.tick_params(axis="x", labelbottom=False)


prob_panel(ax1, A_SERIES, A_GAPS, NAME_A)
prob_panel(ax2, B_SERIES, B_GAPS, NAME_B)

# ---------------- bottom: counts ----------------
ax3.grid(axis="y", color="#dddddd", lw=0.8, zorder=0)
round_marks(ax3)
for hi, lo, col, a in [(BAND_B_HI, BAND_B_LO, "blue", 0.12), (BAND_A_HI, BAND_A_LO, "red", 0.13)]:
    ax3.fill_between(T, flat(lo), flat(hi), color=col, alpha=a, lw=0)
    ax3.plot(T, flat(hi), color=col, lw=0.8, alpha=0.12)
    ax3.plot(T, flat(lo), color=col, lw=0.8, alpha=0.12)

sns.lineplot(x=TRUTH_A_T, y=TRUTH_A_N, color="red", lw=1.8, alpha=0.75, estimator=None,
             errorbar=None, ax=ax3, label=f"Truth {NAME_A}: 12")
sns.lineplot(x=TRUTH_B_T, y=TRUTH_B_N, color="blue", lw=1.8, alpha=0.75, estimator=None,
             errorbar=None, ax=ax3, label=f"Truth {NAME_B}: 15")
sns.lineplot(x=T, y=flat(PRED_A), color="red", lw=1.6, alpha=0.6, linestyle=":",
             estimator=None, errorbar=None, ax=ax3, label=f"Predicted {NAME_A}: 13.8")
sns.lineplot(x=T, y=flat(PRED_B), color="blue", lw=1.6, alpha=0.6, linestyle=":",
             estimator=None, errorbar=None, ax=ax3, label=f"Predicted {NAME_B}: 18.0")
ax3.legend(loc="upper left", fontsize=7, framealpha=0.8)
ax3.set_ylim(-1.64, 33.8)
ax3.set_yticks([0, 5, 10, 15, 20, 25, 30])
ax3.set_ylabel("Count", fontsize=8)
ax3.set_xlabel("Fight time (seconds)", fontsize=10)
ax3.tick_params(axis="both", labelsize=7, length=3.5, width=0.8)

ax3.set_xlim(-90, 1890)
ax3.set_xticks([0, 250, 500, 750, 1000, 1250, 1500, 1750])

fig.savefig("out.png", dpi=150)
